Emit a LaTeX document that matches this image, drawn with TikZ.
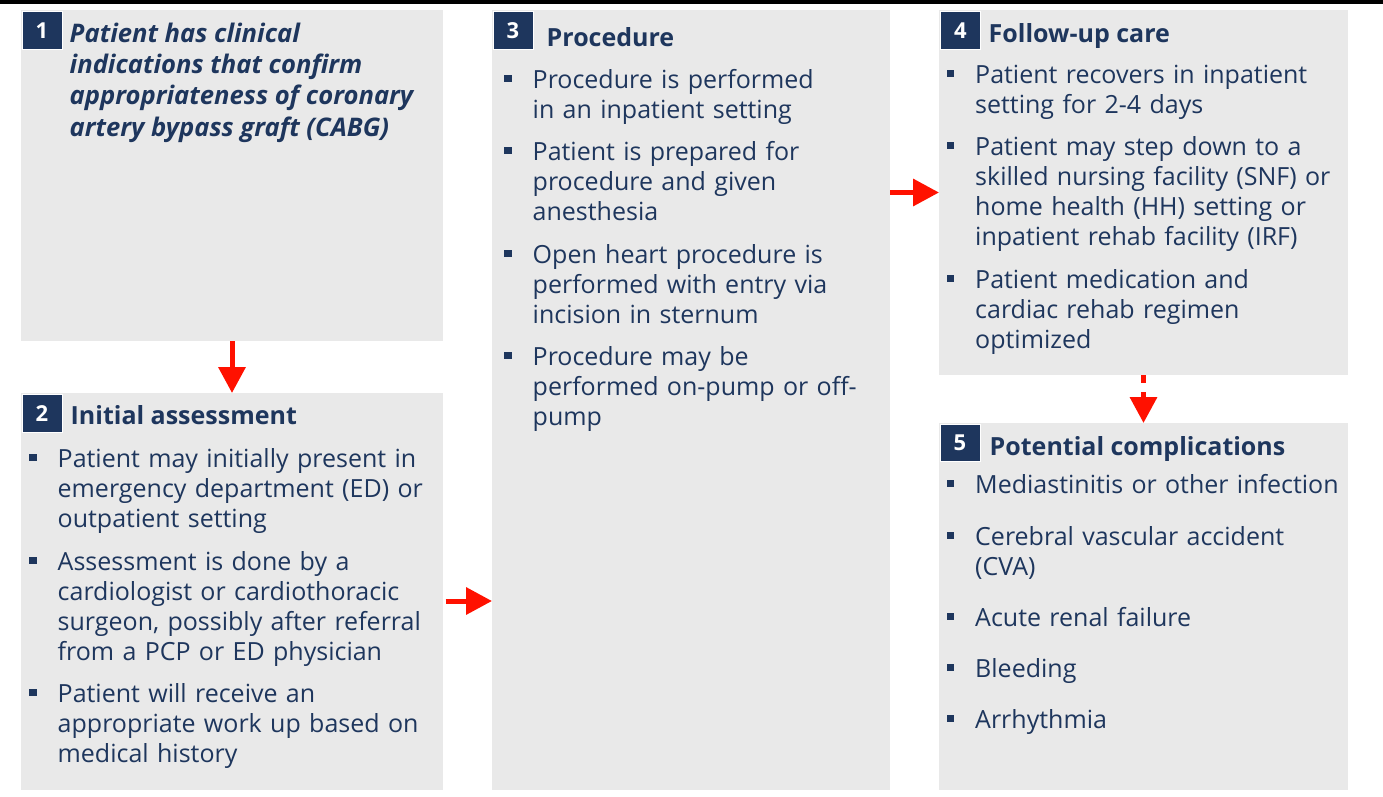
\documentclass[tikz,border=0pt]{standalone}
\usepackage{fontspec}
\setmainfont{Open Sans}
\usetikzlibrary{arrows.meta}
\definecolor{navy}{RGB}{30,54,93}
\definecolor{boxgray}{RGB}{233,233,233}
\definecolor{arrred}{RGB}{255,17,0}
\tikzset{
 panel/.style={fill=boxgray, draw=none, anchor=north west, inner sep=0pt, outer sep=0pt},
 badge/.style={fill=navy, draw=white, line width=1pt, minimum width=40pt, minimum height=37.5pt, inner sep=0pt, text=white, font=\fontsize{22}{26}\selectfont\bfseries},
 ttl/.style={anchor=base west, inner sep=0pt, text=navy, font=\fontsize{25}{30}\selectfont\bfseries},
 itemtxt/.style={anchor=north west, inner sep=0pt, text=navy, text width=420pt, align=left, font=\fontsize{25}{30.2}\selectfont},
 flow/.style={draw=arrred, line width=5pt, -{Triangle[length=26pt,width=26.5pt]}},
}
\newcommand\bitem[4]{%
 \fill[navy] (#2-28.5,#3-13) rectangle (#2-21,#3-6);
 \node[itemtxt] (#1) at (#2,#3-21.14) {\strut #4};}
\begin{document}
\begin{tikzpicture}[x=1pt,y=-1pt]
\useasboundingbox (0,0) rectangle (1383,796);
\fill[white] (0,0) rectangle (1383,796);
\fill[black] (0,0) rectangle (1383,4);
% panels
\node[panel, minimum width=422pt, minimum height=331pt] (b1) at (21,10) {};
\node[panel, minimum width=422pt, minimum height=397pt] (b2) at (21,393) {};
\node[panel, minimum width=398pt, minimum height=780pt] (b3) at (492,10) {};
\node[panel, minimum width=409pt, minimum height=365pt] (b4) at (939,10) {};
\node[panel, minimum width=409pt, minimum height=367pt] (b5) at (939,423) {};
% badges
\node[badge] (n1) at (42,30.5) {1};
\node[badge] (n2) at (42,413.5) {2};
\node[badge] (n3) at (513,30.5) {3};
\node[badge] (n4) at (960.5,30.5) {4};
\node[badge] (n5) at (960,443) {5};
% titles
\node[anchor=north west, inner sep=0pt, text=navy, align=left, font=\fontsize{25.6}{31.4}\selectfont\bfseries\itshape] (t1) at (69.5,20) {\strut Patient has clinical\\indications that confirm\\appropriateness of coronary\\artery bypass graft (CABG)};
\node[ttl] (t2) at (70.5,424.3) {Initial assessment};
\node[ttl] (t3) at (546.5,46.5) {Procedure};
\node[ttl] (t4) at (988.5,42) {Follow-up care};
\node[ttl] (t5) at (989.5,455) {Potential complications};
% box 2 items
\bitem{i21}{57.5}{467}{Patient may initially present in\\emergency department (ED) or\\outpatient setting}
\bitem{i22}{57.5}{570}{Assessment is done by a\\cardiologist or cardiothoracic\\surgeon, possibly after referral\\from a PCP or ED physician}
\bitem{i23}{57.5}{702}{Patient will receive an\\appropriate work up based on\\medical history}
% box 3 items
\bitem{i31}{532.5}{88}{Procedure is performed\\in an inpatient setting}
\bitem{i32}{532.5}{160}{Patient is prepared for\\procedure and given\\anesthesia}
\bitem{i33}{532.5}{263}{Open heart procedure is\\performed with entry via\\incision in sternum}
\bitem{i34}{532.5}{365}{Procedure may be\\performed on-pump or off-\\pump}
% box 4 items
\bitem{i41}{975}{83}{Patient recovers in inpatient\\setting for 2-4 days}
\bitem{i42}{975}{155}{Patient may step down to a\\skilled nursing facility (SNF) or\\home health (HH) setting or\\inpatient rehab facility (IRF)}
\bitem{i43}{975}{288}{Patient medication and\\cardiac rehab regimen\\optimized}
% box 5 items
\bitem{i51}{975}{493}{Mediastinitis or other infection}
\bitem{i52}{975}{545}{Cerebral vascular accident\\(CVA)}
\bitem{i53}{975}{626}{Acute renal failure}
\bitem{i54}{975}{677}{Bleeding}
\bitem{i55}{975}{728}{Arrhythmia}
% connectors
\coordinate (a23) at ([shift={(2.5,9.5)}]b2.east);
\draw[flow] (b1.south) -- (b2.north);
\draw[flow] (a23) -- (a23 -| b3.west);
\draw[flow] (b3.east |- b4.west) -- (b4.west);
\draw[flow, dash pattern=on 8pt off 9pt] (b4.south) -- (b5.north);
\end{tikzpicture}
\end{document}
